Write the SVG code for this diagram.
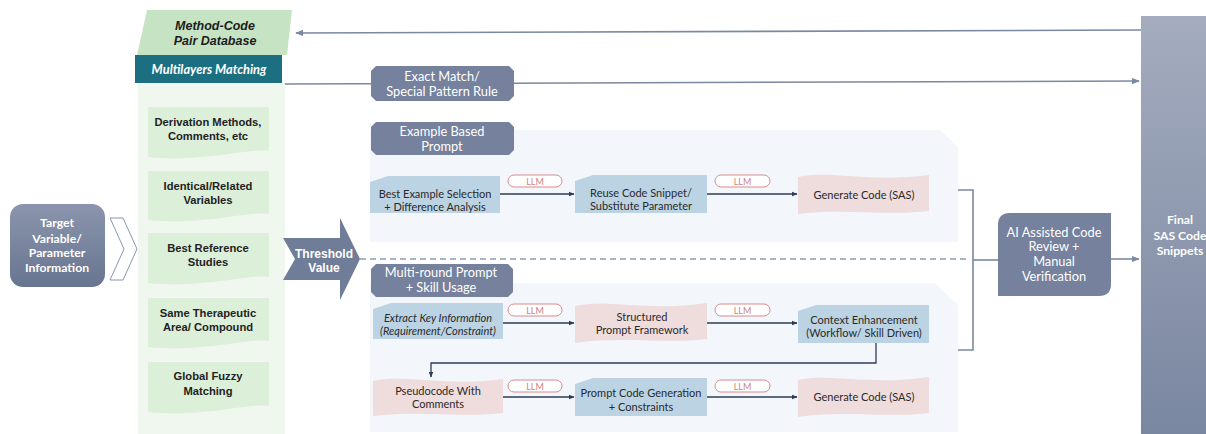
<svg xmlns="http://www.w3.org/2000/svg" width="1206" height="434" viewBox="0 0 1206 434">
  <defs>
    <linearGradient id="gTarget" x1="0" y1="0" x2="0" y2="1">
      <stop offset="0" stop-color="#8b95ad"/>
      <stop offset="1" stop-color="#687590"/>
    </linearGradient>
    <linearGradient id="gFinal" x1="0" y1="0" x2="0" y2="1">
      <stop offset="0" stop-color="#a4acbe"/>
      <stop offset="1" stop-color="#7a87a1"/>
    </linearGradient>
    <marker id="arrDark" viewBox="0 0 10 10" refX="9" refY="5" markerWidth="6" markerHeight="6" orient="auto" markerUnits="userSpaceOnUse">
      <path d="M0,1 L10,5 L0,9 Z" fill="#2f3c58"/>
    </marker>
    <marker id="arrGray" viewBox="0 0 10 10" refX="9" refY="5" markerWidth="8" markerHeight="8" orient="auto" markerUnits="userSpaceOnUse">
      <path d="M0,1 L10,5 L0,9 Z" fill="#7a88a0"/>
    </marker>
    <style>
      .lbl { font-family: "Liberation Sans", Arial, sans-serif; font-weight: bold; font-size: 11.2px; fill: #222; text-anchor: middle; }
      .wt { font-family: Lato, "Open Sans", sans-serif; fill: #ffffff; text-anchor: middle; font-size: 12.8px; }
      .wtb { font-family: Lato, "Open Sans", sans-serif; font-weight: bold; fill: #ffffff; text-anchor: middle; font-size: 12.2px; }
      .nt { font-family: Lato, "Open Sans", sans-serif; fill: #2a2a2a; text-anchor: middle; font-size: 11px; }
      .llm rect { fill: #ffffff; stroke: #d98c8c; stroke-width: 1; }
      .llm text { font-family: Lato, "Open Sans", sans-serif; fill: #d27f7f; font-size: 9px; text-anchor: middle; }
      .doc { fill: #dcefd9; }
      .blue { fill: #bcd3e3; }
      .pink { fill: #efdcdc; }
      .tab { fill: #75819d; }
      .panel { fill: #f3f6fa; }
      .flow { stroke: #2f3c58; stroke-width: 1.3; fill: none; }
      .main { stroke: #7a88a0; stroke-width: 1.6; fill: none; }
    </style>
  </defs>

  <!-- background panels -->
  <rect id="matching-panel" x="138" y="83" width="147" height="351" fill="#eff7ee"/>
  <path id="example-panel" class="panel" d="M370,130 H940 L958,147 V242 H370 Z"/>
  <path id="multi-panel" class="panel" d="M370,283 H935 L958,305 V432 H370 Z"/>

  <!-- connectors -->
  <g id="connectors">
    <path class="main" d="M1141,30 L296,33" marker-end="url(#arrGray)"/>
    <path class="main" d="M285,84 L1139,81" marker-end="url(#arrGray)"/>
    <path d="M360,259 H968" stroke="#8d9ab0" stroke-width="1.3" stroke-dasharray="6,4" fill="none"/>
    <path class="main" d="M958,190 H973 V350 H958" stroke-width="2"/>
    <path class="main" d="M973,260 H998" stroke-width="2"/>
    <path class="main" d="M1111,259 H1139" marker-end="url(#arrGray)"/>
    <path class="flow" d="M500,194 H574" marker-end="url(#arrDark)"/>
    <path class="flow" d="M707,194 H797" marker-end="url(#arrDark)"/>
    <path class="flow" d="M503,323 H574" marker-end="url(#arrDark)"/>
    <path class="flow" d="M707,323 H797" marker-end="url(#arrDark)"/>
    <path class="flow" d="M876,343 V363 H431 V377" marker-end="url(#arrDark)"/>
    <path class="flow" d="M503,397 H574" marker-end="url(#arrDark)"/>
    <path class="flow" d="M707,397 H797" marker-end="url(#arrDark)"/>
  </g>

  <!-- database and matching header -->
  <g id="database">
    <path d="M147,10 H292 L287,55 H137 Z" fill="#c6e4c4"/>
    <text x="215" y="30" font-family="Liberation Sans, Arial, sans-serif" font-weight="bold" font-style="italic" font-size="12.5" fill="#1c1c1c" text-anchor="middle">Method-Code</text>
    <text x="215" y="45" font-family="Liberation Sans, Arial, sans-serif" font-weight="bold" font-style="italic" font-size="12.5" fill="#1c1c1c" text-anchor="middle">Pair Database</text>
  </g>
  <g id="multilayers">
    <rect x="135" y="55" width="147" height="28" fill="#1b6f81"/>
    <text x="209" y="74" font-family="Lato, 'Open Sans', sans-serif" font-weight="bold" font-style="italic" font-size="12.8" fill="#ffffff" text-anchor="middle">Multilayers Matching</text>
  </g>

  <!-- matching levels -->
  <g id="level-derivation">
    <path class="doc" d="M148,107 H269 V151 C248,148 200,163 148,157 Z"/>
    <text class="lbl" x="208" y="126">Derivation Methods,</text>
    <text class="lbl" x="208" y="140">Comments, etc</text>
  </g>
  <g id="level-variables">
    <path class="doc" d="M148,171 H269 V214 C248,211 200,226 148,220 Z"/>
    <text class="lbl" x="208" y="190">Identical/Related</text>
    <text class="lbl" x="208" y="204">Variables</text>
  </g>
  <g id="level-studies">
    <path class="doc" d="M148,233 H269 V277 C248,274 200,289 148,283 Z"/>
    <text class="lbl" x="208" y="252">Best Reference</text>
    <text class="lbl" x="208" y="266">Studies</text>
  </g>
  <g id="level-area">
    <path class="doc" d="M148,298 H269 V341 C248,338 200,353 148,347 Z"/>
    <text class="lbl" x="208" y="317">Same Therapeutic</text>
    <text class="lbl" x="208" y="331">Area/ Compound</text>
  </g>
  <g id="level-fuzzy">
    <path class="doc" d="M148,362 H269 V406 C248,403 200,418 148,412 Z"/>
    <text class="lbl" x="208" y="380">Global Fuzzy</text>
    <text class="lbl" x="208" y="395">Matching</text>
  </g>

  <!-- input -->
  <g id="target">
    <rect x="10" y="204" width="95" height="83" rx="13" fill="url(#gTarget)"/>
    <text class="wtb" x="57" y="227">Target</text>
    <text class="wtb" x="57" y="243">Variable/</text>
    <text class="wtb" x="57" y="257">Parameter</text>
    <text class="wtb" x="57" y="272">Information</text>
  </g>
  <g id="chevron">
    <path d="M110,218 H123 L137,249 L123,280 H110 L124,249 Z" fill="#ffffff" stroke="#8a96b0" stroke-width="1"/>
  </g>

  <!-- threshold -->
  <g id="threshold">
    <path d="M283,238 H340 V218 L360,259 L340,300 V280 H283 L295,259 Z" fill="#6f7d99"/>
    <text x="324" y="258" font-family="Liberation Sans, Arial, sans-serif" font-weight="bold" font-size="12" fill="#ffffff" text-anchor="middle">Threshold</text>
    <text x="324" y="272" font-family="Liberation Sans, Arial, sans-serif" font-weight="bold" font-size="12" fill="#ffffff" text-anchor="middle">Value</text>
  </g>

  <!-- strategy tabs -->
  <g id="exact-match">
    <path class="tab" d="M376,66 H509 L514,71 V96 L509,101 H376 L371,96 V71 Z"/>
    <text class="wt" x="442" y="81">Exact Match/</text>
    <text class="wt" x="442" y="96">Special Pattern Rule</text>
  </g>
  <g id="example-tab">
    <path class="tab" d="M376,122 H509 L514,127 V150 L509,155 H376 L371,150 V127 Z"/>
    <text class="wt" x="442" y="136">Example Based</text>
    <text class="wt" x="442" y="151">Prompt</text>
  </g>
  <g id="multi-tab">
    <path class="tab" d="M376,264 H508 L513,269 V292 L508,297 H376 L371,292 V269 Z"/>
    <text class="wt" x="441" y="277">Multi-round Prompt</text>
    <text class="wt" x="441" y="292">+ Skill Usage</text>
  </g>

  <!-- example based row -->
  <g id="best-example">
    <path class="blue" d="M370,182 L388,176 H500 V213 H370 Z"/>
    <text class="nt" x="435" y="198">Best Example Selection</text>
    <text class="nt" x="435" y="211">+ Difference Analysis</text>
  </g>
  <g class="llm" id="llm-1"><rect x="508" y="175" width="54" height="12" rx="6"/><text x="535" y="184.5">LLM</text></g>
  <g id="reuse-code">
    <path class="blue" d="M575,181 L593,175 H707 V213 H575 Z"/>
    <text class="nt" x="641" y="197">Reuse Code Snippet/</text>
    <text class="nt" x="641" y="210">Substitute Parameter</text>
  </g>
  <g class="llm" id="llm-2"><rect x="715" y="175" width="55" height="12" rx="6"/><text x="742.5" y="184.5">LLM</text></g>
  <g id="generate-1">
    <path class="pink" d="M798,177 C830,170 870,183 929,175 V211 C890,216 840,208 798,214 Z"/>
    <text class="nt" x="864" y="199">Generate Code (SAS)</text>
  </g>

  <!-- multi-round rows -->
  <g id="extract-key">
    <path class="blue" d="M373,309 L391,303 H503 V339 H373 Z"/>
    <text class="nt" x="438" y="322" font-style="italic">Extract Key Information</text>
    <text class="nt" x="438" y="335" font-style="italic">(Requirement/Constraint)</text>
  </g>
  <g class="llm" id="llm-3"><rect x="508" y="304" width="54" height="12" rx="6"/><text x="535" y="313.5">LLM</text></g>
  <g id="structured">
    <path class="pink" d="M575,306 C610,299 650,312 707,303 V339 C670,344 620,336 575,343 Z"/>
    <text class="nt" x="642" y="321">Structured</text>
    <text class="nt" x="642" y="334">Prompt Framework</text>
  </g>
  <g class="llm" id="llm-4"><rect x="715" y="304" width="55" height="12" rx="6"/><text x="742.5" y="313.5">LLM</text></g>
  <g id="context">
    <path class="blue" d="M798,311 L816,305 H929 V343 H798 Z"/>
    <text class="nt" x="864" y="324">Context Enhancement</text>
    <text class="nt" x="864" y="337">(Workflow/ Skill Driven)</text>
  </g>
  <g id="pseudocode">
    <path class="pink" d="M373,381 C405,374 450,387 503,379 V413 C465,418 420,410 373,416 Z"/>
    <text class="nt" x="438" y="395">Pseudocode With</text>
    <text class="nt" x="438" y="408">Comments</text>
  </g>
  <g class="llm" id="llm-5"><rect x="508" y="380" width="54" height="12" rx="6"/><text x="535" y="389.5">LLM</text></g>
  <g id="prompt-code">
    <path class="blue" d="M575,384 L593,378 H707 V416 H575 Z"/>
    <text class="nt" x="641" y="397">Prompt Code Generation</text>
    <text class="nt" x="641" y="411">+ Constraints</text>
  </g>
  <g class="llm" id="llm-6"><rect x="715" y="380" width="55" height="12" rx="6"/><text x="742.5" y="389.5">LLM</text></g>
  <g id="generate-2">
    <path class="pink" d="M798,380 C830,373 870,386 929,377 V413 C890,418 840,410 798,417 Z"/>
    <text class="nt" x="864" y="401">Generate Code (SAS)</text>
  </g>

  <!-- review and output -->
  <g id="ai-review">
    <path class="tab" d="M1010,213 H1111 V284 Q1111,296 1099,296 H998 V225 Q998,213 1010,213 Z"/>
    <text class="wt" x="1054" y="237">AI Assisted Code</text>
    <text class="wt" x="1054" y="251">Review +</text>
    <text class="wt" x="1054" y="266">Manual</text>
    <text class="wt" x="1054" y="281">Verification</text>
  </g>
  <g id="final">
    <rect x="1141" y="16" width="66" height="418" fill="url(#gFinal)"/>
    <text class="wtb" x="1180" y="224">Final</text>
    <text class="wtb" x="1180" y="240">SAS Code</text>
    <text class="wtb" x="1180" y="255">Snippets</text>
  </g>
</svg>
